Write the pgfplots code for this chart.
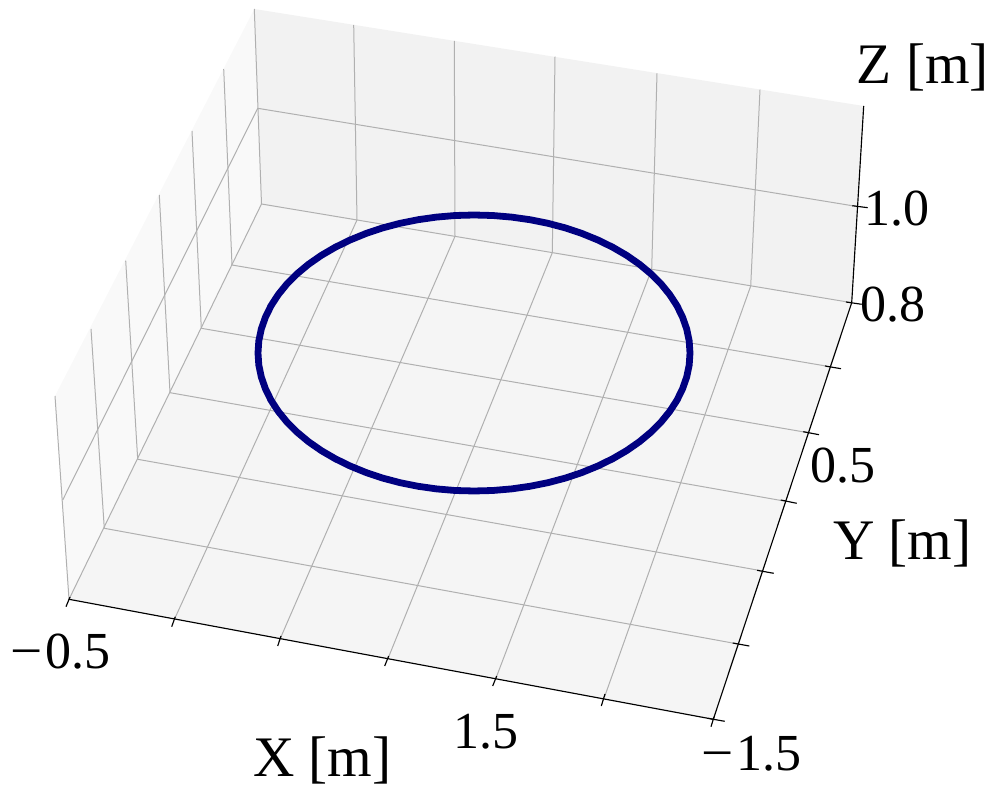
\documentclass[border=0pt]{standalone}
\usepackage{pgfplots}
\pgfplotsset{compat=1.18}
\usepackage{graphicx}
\usepackage{fontspec}
\setmainfont{Liberation Serif}
\definecolor{paneleft}{gray}{0.975}
\definecolor{paneback}{gray}{0.95}
\definecolor{panefloor}{gray}{0.9625}
\definecolor{gridc}{HTML}{B0B0B0}
\definecolor{circ}{RGB}{0,0,128}
\pgfplotsset{
  gridl/.style={color=gridc,line width=1.0pt,no markers,forget plot},
  axl/.style={color=black,line width=1.15pt,no markers,forget plot},
}
\tikzset{
  lab/.style={anchor=base west,inner sep=0pt,outer sep=0pt,font=\fontsize{57.3}{60}\selectfont},
  tl/.style={anchor=base west,inner sep=0pt,outer sep=0pt,font=\fontsize{52}{54}\selectfont},
}
\newcommand{\mn}{\scalebox{1.1}[1]{−}\kern3pt}
\begin{document}
\begin{tikzpicture}
\begin{axis}[
    width=997pt, height=799pt, scale only axis,
    xmin=0, xmax=997, ymin=0, ymax=799,
    y dir=reverse, hide axis, clip=false,
]
% keep the whole canvas in the bounding box
\path (axis cs:0,0) rectangle (axis cs:997,799);

% panes
\addplot[fill=paneleft,draw=none,forget plot] coordinates {(261.5,204) (254.3,9) (55,396) (69,599.3)} --cycle;
\addplot[fill=paneback,draw=none,forget plot] coordinates {(261.5,204) (254.3,9) (863.7,106) (851.7,302.7)} --cycle;
\addplot[fill=panefloor,draw=none,forget plot] coordinates {(69,599.3) (261.5,204) (851.7,302.7) (713.3,719.3)} --cycle;

% left wall grid
\addplot[gridl] coordinates {(232,265) (223.7,69)};
\addplot[gridl] coordinates {(201.3,328.3) (192,131)};
\addplot[gridl] coordinates {(170,392.7) (159.3,195)};
\addplot[gridl] coordinates {(137.7,459.3) (125.7,260.7)};
\addplot[gridl] coordinates {(104.3,528.3) (91,329)};
\addplot[gridl] coordinates {(69,599.3) (55,396)};
\addplot[gridl] coordinates {(257.7,108.3) (62.7,500)};
\addplot[gridl] coordinates {(261.5,204) (254.3,9)};

% back wall grid
\addplot[gridl] coordinates {(357,220) (353.7,25)};
\addplot[gridl] coordinates {(455,236.3) (454.3,41)};
\addplot[gridl] coordinates {(552.3,252.7) (555,56.7)};
\addplot[gridl] coordinates {(651.7,269.3) (657,73.3)};
\addplot[gridl] coordinates {(750.7,286) (760,89.7)};
\addplot[gridl] coordinates {(257.7,108.3) (858.3,206.7)};
\addplot[gridl] coordinates {(261.5,204) (851.7,302.7)};

% floor grid, x direction
\addplot[gridl] coordinates {(69,599.3) (261.5,204)};
\addplot[gridl] coordinates {(175,618) (357,220)};
\addplot[gridl] coordinates {(280.5,638) (455,236.3)};
\addplot[gridl] coordinates {(388,658.5) (552.3,252.7)};
\addplot[gridl] coordinates {(496,678) (651.7,269.3)};
\addplot[gridl] coordinates {(604.5,697) (750.7,286)};

% floor grid, y direction
\addplot[gridl] coordinates {(232,265) (830,366.7)};
\addplot[gridl] coordinates {(201.3,328.3) (808.3,432.7)};
\addplot[gridl] coordinates {(170,392.7) (785.7,501.3)};
\addplot[gridl] coordinates {(137.7,459.3) (762.7,571)};
\addplot[gridl] coordinates {(104.3,528.3) (738,644)};

% axis lines
\addplot[axl] coordinates {(69,599.3) (713.3,719.3)};
\addplot[axl] coordinates {(713.3,719.3) (851.7,302.7) (863.7,106)};

% x ticks
\addplot[axl] coordinates {(70,597) (66,606.7)};
\addplot[axl] coordinates {(175.3,616.7) (171.7,626.7)};
\addplot[axl] coordinates {(281,636) (277.7,646)};
\addplot[axl] coordinates {(388.7,656) (384.7,666)};
\addplot[axl] coordinates {(496.7,676) (492.7,686)};
\addplot[axl] coordinates {(605,694) (601.3,706)};
\addplot[axl] coordinates {(714,717) (711,726.7)};

% y ticks
\addplot[axl] coordinates {(825,366) (841,368.7)};
\addplot[axl] coordinates {(803.3,431.7) (819,434.7)};
\addplot[axl] coordinates {(780.7,500) (796.7,503.3)};
\addplot[axl] coordinates {(757,570.3) (773.7,573.3)};
\addplot[axl] coordinates {(732.7,643) (749.3,646)};
\addplot[axl] coordinates {(708,718.3) (724.7,721.3)};

% z ticks
\addplot[axl] coordinates {(852.3,205.7) (867.7,207.7)};
\addplot[axl] coordinates {(846,302) (861.7,304.3)};

% trajectory
\addplot[color=circ,line width=6.8pt,no markers,line join=round] coordinates {
    (690,353) (689.2,365) (686.7,377) (682.6,388.7) (677,400.2) (669.8,411.3)
    (661.1,422) (650.9,432.2) (639.5,441.7) (626.7,450.6) (612.8,458.7) (597.9,466)
    (582,472.5) (565.3,478.1) (547.9,482.7) (529.9,486.3) (511.5,488.9) (492.8,490.5)
    (474,491) (455.2,490.5) (436.5,488.9) (418.1,486.3) (400.1,482.7) (382.7,478.1)
    (366,472.5) (350.1,466) (335.2,458.7) (321.3,450.6) (308.5,441.7) (297.1,432.2)
    (286.9,422) (278.2,411.3) (271,400.2) (265.4,388.7) (261.3,377) (258.8,365)
    (258,353) (258.8,341) (261.3,329) (265.4,317.3) (271,305.8) (278.2,294.7)
    (286.9,284) (297.1,273.8) (308.5,264.3) (321.3,255.4) (335.2,247.3) (350.1,240)
    (366,233.5) (382.7,227.9) (400.1,223.3) (418.1,219.7) (436.5,217.1) (455.2,215.5)
    (474,215) (492.8,215.5) (511.5,217.1) (529.9,219.7) (547.9,223.3) (565.3,227.9)
    (582,233.5) (597.9,240) (612.8,247.3) (626.7,255.4) (639.5,264.3) (650.9,273.8)
    (661.1,284) (669.8,294.7) (677,305.8) (682.6,317.3) (686.7,329) (689.2,341)
    (690,353) (689.2,365)
};

% labels
\node[lab] at (axis cs:856.7,83.3) {Z [m]};
\node[lab] at (axis cs:833,559.3) {Y [m]};
\node[lab] at (axis cs:253,776.7) {X [m]};
\node[tl] at (axis cs:864.5,225.5) {1.0};
\node[tl] at (axis cs:860,321.7) {0.8};
\node[tl] at (axis cs:810,483) {0.5};
\node[tl] at (axis cs:453,748.3) {1.5};
\node[tl] at (axis cs:10.5,668.3) {\mn 0.5};
\node[tl] at (axis cs:701.5,770.7) {\mn 1.5};
\end{axis}
\end{tikzpicture}
\end{document}
